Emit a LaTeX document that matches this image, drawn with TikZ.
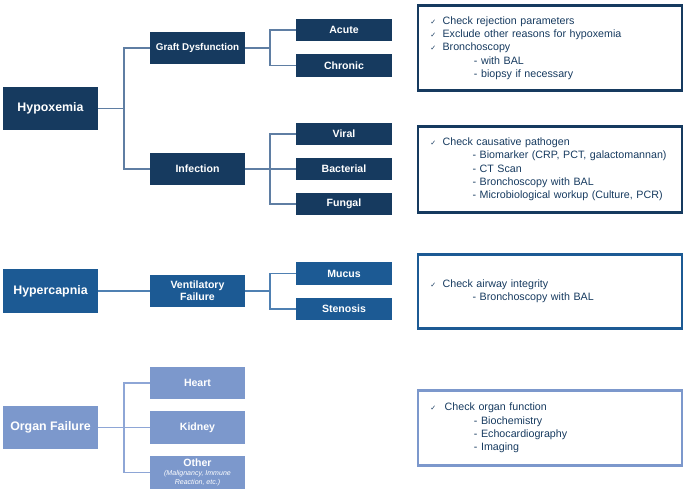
\documentclass[tikz,border=0pt]{standalone}
\usepackage{fontspec}
\setmainfont{Liberation Sans}
\newfontfamily\symfont{DejaVu Sans}
\usetikzlibrary{calc}
\definecolor{navy}{HTML}{163A5F}
\definecolor{midblue}{HTML}{1C5A94}
\definecolor{lightblue}{HTML}{7C98CC}
\definecolor{navyline}{HTML}{5F7EA3}
\definecolor{midline}{HTML}{4F80B2}
\definecolor{lightline}{HTML}{8EA6D6}
\newcommand{\chk}{{\symfont\fontsize{5}{5}\selectfont ✓}\hspace{4.5pt}}
\newcommand{\inditem}[1]{\hspace*{#1}- }
\newcommand{\smallnote}{\normalfont\itshape\fontsize{5}{5.5}\selectfont}

\tikzset{
  mainbox/.style={fill=#1, text=white, font=\bfseries\fontsize{8.8}{10}\selectfont,
    minimum width=2.375cm, minimum height=1.075cm, inner sep=0pt},
  midbox/.style={fill=#1, text=white, font=\bfseries\fontsize{7.5}{8.5}\selectfont,
    minimum width=2.375cm, minimum height=0.8cm, inner sep=0pt, align=center},
  leafbox/.style={fill=#1, text=white, font=\bfseries\fontsize{7.5}{8.5}\selectfont,
    minimum width=2.4cm, minimum height=0.56cm, inner sep=0pt},
  notebox/.style={draw=#1, line width=2pt, text=navy, font=\fontsize{7.6}{9.5}\selectfont,
    text width=5.98cm, inner xsep=0.31cm, inner ysep=0pt, align=left},
  link/.style={draw=#1, line width=0.9pt},
}

\begin{document}
\begin{tikzpicture}[x=0.025cm, y=-0.025cm]
  %%%%% START %%%%%
  \useasboundingbox (0,0) rectangle (685,491);

  % hypoxemia
  \node[mainbox=navy] (hypox) at (50.5,108.5) {Hypoxemia};
  \node[midbox=navy, font=\bfseries\fontsize{7}{8}\selectfont] (graft) at (197.5,48) {Graft Dysfunction};
  \node[midbox=navy] (infect) at (197.5,169) {Infection};
  \node[leafbox=navy] (acute) at (344,30) {Acute};
  \node[leafbox=navy] (chronic) at (344,65.5) {Chronic};
  \node[leafbox=navy] (viral) at (344,134) {Viral};
  \node[leafbox=navy] (bact) at (344,169) {Bacterial};
  \node[leafbox=navy] (fungal) at (344,204) {Fungal};

  \coordinate (hypfork) at (124,108.5);
  \coordinate (graftfork) at (270,48);
  \coordinate (infectfork) at (270,169);
  \draw[link=navyline] (hypox.east) -- (hypfork) |- (graft.west);
  \draw[link=navyline] (hypfork) |- (infect.west);
  \draw[link=navyline] (graft.east) -- (graftfork) |- (acute.west);
  \draw[link=navyline] (graftfork) |- (chronic.west);
  \draw[link=navyline] (infect.east) -- (bact.west);
  \draw[link=navyline] (infectfork) |- (viral.west);
  \draw[link=navyline] (infectfork) |- (fungal.west);

  % hypercapnia
  \node[mainbox=midblue] (hyperc) at (50.5,291) {Hypercapnia};
  \node[midbox=midblue] (ventil) at (197.5,291) {Ventilatory\\Failure};
  \node[leafbox=midblue] (mucus) at (344,273.5) {Mucus};
  \node[leafbox=midblue] (stenos) at (344,309) {Stenosis};

  \coordinate (ventfork) at (270,291);
  \draw[link=midline] (hyperc.east) -- (ventil.west);
  \draw[link=midline] (ventil.east) -- (ventfork) |- (mucus.west);
  \draw[link=midline] (ventfork) |- (stenos.west);

  % organ failure
  \node[mainbox=lightblue] (organ) at (50.5,427.5) {Organ Failure};
  \node[midbox=lightblue] (heart) at (197.5,383) {Heart};
  \node[midbox=lightblue] (kidney) at (197.5,427.5) {Kidney};
  \node[midbox=lightblue] (other) at (197.5,472.5)
    {Other\\[-2pt]{\smallnote(Malignancy, Immune}\\[-2.5pt]{\smallnote Reaction, etc.)}};

  \coordinate (organfork) at (124,427.5);
  \draw[link=lightline] (organ.east) -- (kidney.west);
  \draw[link=lightline] (organfork) |- (heart.west);
  \draw[link=lightline] (organfork) |- (other.west);

  % notes
  \node[notebox=navy, minimum height=2.12cm] (graftnote) at (550,48)
    {\chk Check rejection parameters\\
     \chk Exclude other reasons for hypoxemia\\
     \chk Bronchoscopy\\
     \inditem{31pt}with BAL\\
     \inditem{31pt}biopsy if necessary};
  \node[notebox=navy, minimum height=2.14cm] (infectnote) at (550,169.5)
    {\chk Check causative pathogen\\
     \inditem{30pt}Biomarker (CRP, PCT, galactomannan)\\
     \inditem{30pt}CT Scan\\
     \inditem{30pt}Bronchoscopy with BAL\\
     \inditem{30pt}Microbiological workup (Culture, PCR)};
  \node[notebox=midblue, minimum height=1.84cm] (ventnote) at (550,291.5)
    {\chk Check airway integrity\\
     \inditem{30pt}Bronchoscopy with BAL};
  \node[notebox=lightblue, minimum height=1.86cm] (organnote) at (550,428)
    {\chk\hspace{1.5pt}Check organ function\\
     \inditem{31pt}Biochemistry\\
     \inditem{31pt}Echocardiography\\
     \inditem{31pt}Imaging};
  %%%%% END %%%%%
\end{tikzpicture}
\end{document}
